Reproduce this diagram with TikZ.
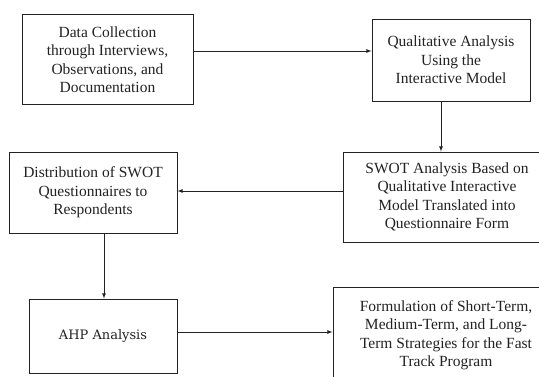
\documentclass[tikz,border=0pt]{standalone}
\usepackage{fontspec}
\setmainfont{Liberation Serif}
\newfontfamily\slabfont{DejaVu Serif}
\usetikzlibrary{shapes,arrows}
\definecolor{ink}{HTML}{222222}
\tikzstyle{process} = [rectangle, text centered, align=center, draw=ink, line width=0.9pt, text=ink, font=\fontsize{15.5}{18.5}\selectfont, inner sep=0pt]
\tikzstyle{arrow} = [line width=0.8pt, draw=ink, ->, >=latex]

\begin{document}
\begin{tikzpicture}[x=1pt, y=-1pt]
\useasboundingbox (0,0) rectangle (539,376);
\clip (0,0) rectangle (539,376);
\node (data) [process, minimum width=171pt, minimum height=90pt] at (107.5,59.5) {Data Collection\\through Interviews,\\Observations, and\\Documentation};
\node (qual) [process, minimum width=158pt, minimum height=82pt] at (451,60) {Qualitative Analysis\\Using the\\Interactive Model};
\node (swot) [process, minimum width=208pt, minimum height=90pt] at (447,197) {SWOT Analysis Based on\\Qualitative Interactive\\Model Translated into\\Questionnaire Form};
\node (dist) [process, minimum width=168pt, minimum height=81pt] at (93,192.5) {Distribution of SWOT\\Questionnaires to\\Respondents};
\node (ahp) [process, minimum width=148pt, minimum height=74pt, font=\slabfont\fontsize{13}{16}\selectfont] at (103,336) {AHP Analysis};
\node (form) [process, minimum width=226pt, minimum height=96pt] at (446,335) {Formulation of Short-Term,\\Medium-Term, and Long-\\Term Strategies for the Fast\\Track Program};

\draw [arrow] ([yshift=8.5pt]data.east) -- ([yshift=8.5pt]data.east -| qual.west);
\draw [arrow] ([xshift=-10pt]qual.south) -- ([xshift=-10pt]qual.south |- swot.north);
\draw [arrow] ([yshift=6pt]swot.west) -- ([yshift=6pt]swot.west -| dist.east);
\draw [arrow] ([xshift=11pt]dist.south) -- ([xshift=11pt]dist.south |- ahp.north);
\draw [arrow] ([yshift=4pt]ahp.east) -- ([yshift=4pt]ahp.east -| form.west);
\end{tikzpicture}
\end{document}
